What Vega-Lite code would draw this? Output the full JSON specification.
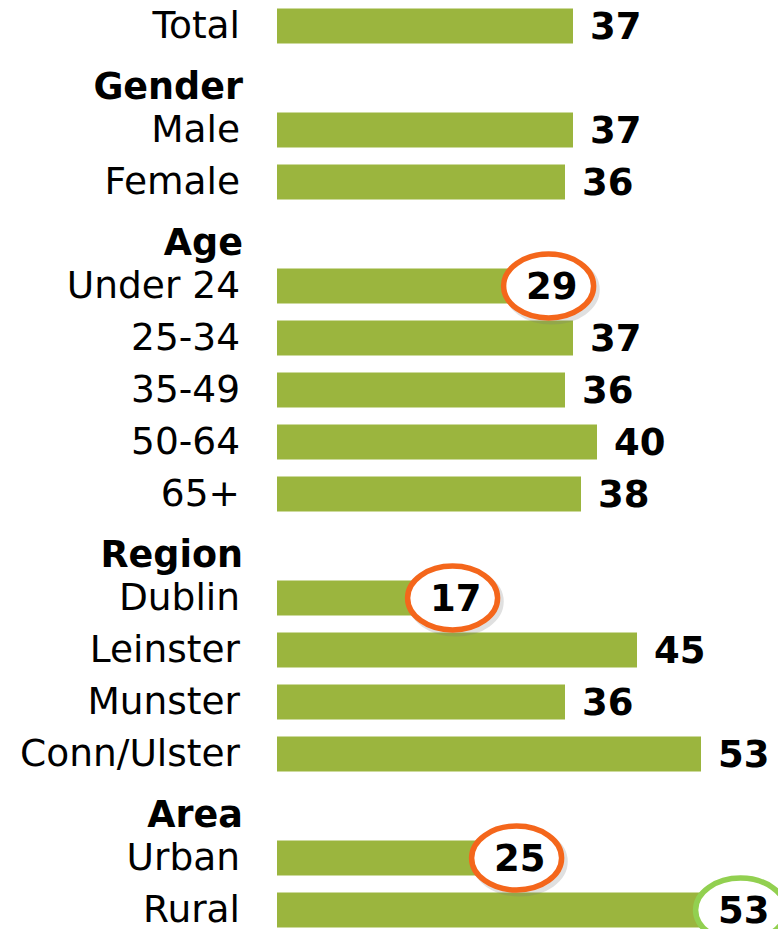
{
  "$schema": "https://vega.github.io/schema/vega-lite/v6.json",
  "autosize": {"type": "none"},
  "padding": {"left": 277, "top": 0, "right": 21, "bottom": 0},
  "width": 480,
  "height": {"step": 52.0},
  "config": {"view": {"stroke": null}, "text": {"font": "DejaVu Sans"}},
  "data": {"values": [
    {"label": "Total", "kind": "item", "value": 37, "highlight": null},
    {"label": "Gender", "kind": "heading", "value": null, "highlight": null},
    {"label": "Male", "kind": "item", "value": 37, "highlight": null},
    {"label": "Female", "kind": "item", "value": 36, "highlight": null},
    {"label": "Age", "kind": "heading", "value": null, "highlight": null},
    {"label": "Under 24", "kind": "item", "value": 29, "highlight": "low"},
    {"label": "25-34", "kind": "item", "value": 37, "highlight": null},
    {"label": "35-49", "kind": "item", "value": 36, "highlight": null},
    {"label": "50-64", "kind": "item", "value": 40, "highlight": null},
    {"label": "65+", "kind": "item", "value": 38, "highlight": null},
    {"label": "Region", "kind": "heading", "value": null, "highlight": null},
    {"label": "Dublin", "kind": "item", "value": 17, "highlight": "low"},
    {"label": "Leinster", "kind": "item", "value": 45, "highlight": null},
    {"label": "Munster", "kind": "item", "value": 36, "highlight": null},
    {"label": "Conn/Ulster", "kind": "item", "value": 53, "highlight": null},
    {"label": "Area", "kind": "heading", "value": null, "highlight": null},
    {"label": "Urban", "kind": "item", "value": 25, "highlight": "low"},
    {"label": "Rural", "kind": "item", "value": 53, "highlight": "high"}
  ]},
  "encoding": {
    "y": {"field": "label", "type": "nominal", "axis": null,
          "scale": {"domain": ["Total", "Gender", "Male", "Female", "Age", "Under 24", "25-34", "35-49", "50-64", "65+", "Region", "Dublin", "Leinster", "Munster", "Conn/Ulster", "Area", "Urban", "Rural"],
                    "paddingInner": 0.33, "paddingOuter": 0.165}}
  },
  "layer": [
    {
      "transform": [{"filter": "datum.kind === 'item'"}],
      "mark": {"type": "bar", "color": "#9bb53e"},
      "encoding": {
        "x": {"field": "value", "type": "quantitative", "axis": null, "scale": {"domain": [0, 60], "nice": false}}
      }
    },
    {
      "transform": [{"filter": "datum.highlight != null"}],
      "mark": {"type": "point", "filled": false, "size": 8100, "strokeWidth": 6, "opacity": 0.22, "color": "#777777",
               "shape": "M -0.05 0.08 A 1 0.71 0 1 0 1.95 0.08 A 1 0.71 0 1 0 -0.05 0.08"},
      "encoding": {"x": {"field": "value", "type": "quantitative"}}
    },
    {
      "transform": [{"filter": "datum.highlight != null"}],
      "mark": {"type": "point", "filled": false, "size": 8100, "strokeWidth": 5.5, "opacity": 1, "fill": "white", "fillOpacity": 1,
               "shape": "M -0.12 0 A 1 0.71 0 1 0 1.88 0 A 1 0.71 0 1 0 -0.12 0"},
      "encoding": {
        "x": {"field": "value", "type": "quantitative"},
        "stroke": {"field": "highlight", "type": "nominal", "legend": null,
                   "scale": {"domain": ["low", "high"], "range": ["#f4661b", "#92d050"]}}
      }
    },
    {
      "transform": [{"filter": "datum.kind === 'item'"}],
      "mark": {"type": "text", "align": "left", "baseline": "middle", "dx": 17, "dy": 2, "fontSize": 37, "fontWeight": "bold", "color": "black"},
      "encoding": {
        "x": {"field": "value", "type": "quantitative"},
        "text": {"field": "value", "type": "quantitative"}
      }
    },
    {
      "transform": [{"filter": "datum.kind === 'item'"}],
      "mark": {"type": "text", "align": "right", "baseline": "middle", "dx": -37, "dy": 1, "fontSize": 37.5, "color": "black"},
      "encoding": {
        "x": {"datum": 0, "type": "quantitative"},
        "text": {"field": "label"}
      }
    },
    {
      "transform": [{"filter": "datum.kind === 'heading'"}],
      "mark": {"type": "text", "align": "right", "baseline": "middle", "dx": -34, "dy": 10, "fontSize": 36.5, "fontWeight": "bold", "color": "black"},
      "encoding": {
        "x": {"datum": 0, "type": "quantitative"},
        "text": {"field": "label"}
      }
    }
  ]
}
